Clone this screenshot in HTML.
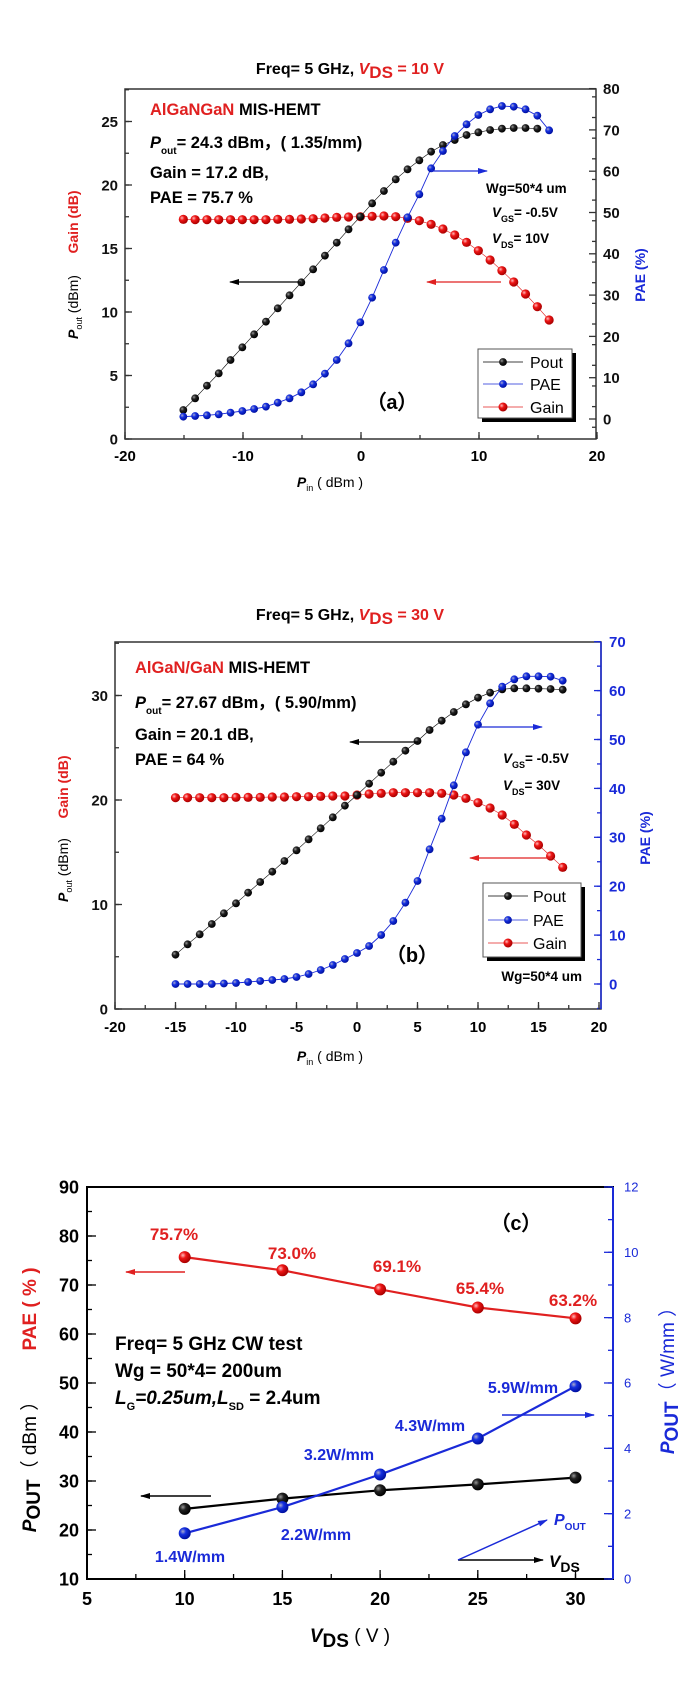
<!DOCTYPE html>
<html><head><meta charset="utf-8"><style>
html,body{margin:0;padding:0;background:#fff}
svg{display:block;font-family:"Liberation Sans",Arial,sans-serif;font-weight:bold}
</style></head><body>
<svg id="s" width="693" height="1701" viewBox="0 0 693 1701" xmlns="http://www.w3.org/2000/svg">
<defs>
<radialGradient id="gk" cx="35%" cy="35%" r="65%"><stop offset="0" stop-color="#999"/><stop offset="0.4" stop-color="#222"/><stop offset="1" stop-color="#000"/></radialGradient>
<radialGradient id="gb" cx="35%" cy="35%" r="65%"><stop offset="0" stop-color="#aac"/><stop offset="0.4" stop-color="#1530e0"/><stop offset="1" stop-color="#0010a0"/></radialGradient>
<radialGradient id="gr" cx="35%" cy="35%" r="65%"><stop offset="0" stop-color="#fbb"/><stop offset="0.4" stop-color="#ee1515"/><stop offset="1" stop-color="#a00"/></radialGradient>
<marker id="ak" markerWidth="10" markerHeight="8" refX="9" refY="4" orient="auto" markerUnits="userSpaceOnUse"><path d="M0,1 L10,4 L0,7 Z" fill="#000"/></marker>
<marker id="ab" markerWidth="10" markerHeight="8" refX="9" refY="4" orient="auto" markerUnits="userSpaceOnUse"><path d="M0,1 L10,4 L0,7 Z" fill="#1a2ad8"/></marker>
<marker id="ar" markerWidth="10" markerHeight="8" refX="9" refY="4" orient="auto" markerUnits="userSpaceOnUse"><path d="M0,1 L10,4 L0,7 Z" fill="#e02020"/></marker>
</defs>

<!-- ============ Plot A ============ -->
<text x="350" y="74" text-anchor="middle" font-size="16">Freq= 5 GHz, <tspan fill="#e02020" font-style="italic">V</tspan><tspan fill="#e02020" font-size="17" dy="4">DS</tspan><tspan fill="#e02020" dy="-4"> = 10 V</tspan></text>
<rect x="125" y="89" width="471" height="350" fill="none" stroke="#333" stroke-width="1.5"/>
<g id="ga"></g>
<text x="150" y="115" font-size="16.5"><tspan fill="#e02020">AlGaNGaN</tspan> MIS-HEMT</text>
<text x="150" y="148" font-size="16.5"><tspan font-style="italic">P</tspan><tspan font-size="10" dy="6">out</tspan><tspan dy="-6">=  24.3 dBm，( 1.35/mm)</tspan></text>
<text x="150" y="178" font-size="16.5">Gain = 17.2 dB,</text>
<text x="150" y="203" font-size="16.5">PAE = 75.7 %</text>
<text x="486" y="193" font-size="13.5">Wg=50*4 um</text>
<text x="492" y="217" font-size="13.5"><tspan font-style="italic">V</tspan><tspan font-size="9" dy="5">GS</tspan><tspan dy="-5">= -0.5V</tspan></text>
<text x="492" y="243" font-size="13.5"><tspan font-style="italic">V</tspan><tspan font-size="9" dy="5">DS</tspan><tspan dy="-5">= 10V</tspan></text>
<line x1="301" y1="282" x2="230" y2="282" stroke="#000" stroke-width="1.2" marker-end="url(#ak)"/>
<line x1="431" y1="171" x2="487" y2="171" stroke="#1a2ad8" stroke-width="1.2" marker-end="url(#ab)"/>
<line x1="501" y1="282" x2="427" y2="282" stroke="#e02020" stroke-width="1.2" marker-end="url(#ar)"/>
<text x="392" y="409" text-anchor="middle" font-size="20">（a）</text>
<rect x="482" y="353" width="94" height="69" fill="#000"/>
<rect x="478" y="349" width="94" height="69" fill="#fff" stroke="#555" stroke-width="1"/>
<g id="la"></g>
<text x="78" y="307" transform="rotate(-90 78 307)" text-anchor="middle" font-size="14" font-weight="normal"><tspan font-weight="bold" font-style="italic">P</tspan><tspan font-size="9" dy="4">out</tspan><tspan dy="-4"> (dBm)</tspan></text>
<text x="78" y="222" transform="rotate(-90 78 222)" text-anchor="middle" font-size="14" fill="#e02020">Gain (dB)</text>
<text x="645" y="275" transform="rotate(-90 645 275)" text-anchor="middle" font-size="14" fill="#1a2ad8">PAE (%)</text>
<text x="330" y="487" text-anchor="middle" font-size="14" font-weight="normal"><tspan font-weight="bold" font-style="italic">P</tspan><tspan font-size="9" dy="4">in</tspan><tspan dy="-4"> ( dBm )</tspan></text>

<!-- ============ Plot B ============ -->
<text x="350" y="620" text-anchor="middle" font-size="16">Freq= 5 GHz, <tspan fill="#e02020" font-style="italic">V</tspan><tspan fill="#e02020" font-size="17" dy="4">DS</tspan><tspan fill="#e02020" dy="-4"> = 30 V</tspan></text>
<rect x="115" y="642" width="486" height="367" fill="none" stroke="#333" stroke-width="1.5"/>
<line x1="601" y1="642" x2="601" y2="1009" stroke="#1a2ad8" stroke-width="1.5"/>
<g id="gbp"></g>
<text x="135" y="673" font-size="16.5"><tspan fill="#e02020">AlGaN/GaN</tspan> MIS-HEMT</text>
<text x="135" y="708" font-size="16.5"><tspan font-style="italic">P</tspan><tspan font-size="10" dy="6">out</tspan><tspan dy="-6">=  27.67 dBm，( 5.90/mm)</tspan></text>
<text x="135" y="740" font-size="16.5">Gain = 20.1 dB,</text>
<text x="135" y="765" font-size="16.5">PAE = 64 %</text>
<text x="503" y="763" font-size="13.5"><tspan font-style="italic">V</tspan><tspan font-size="9" dy="5">GS</tspan><tspan dy="-5">= -0.5V</tspan></text>
<text x="503" y="790" font-size="13.5"><tspan font-style="italic">V</tspan><tspan font-size="9" dy="5">DS</tspan><tspan dy="-5">= 30V</tspan></text>
<text x="582" y="981" text-anchor="end" font-size="13.5">Wg=50*4 um</text>
<line x1="418" y1="742" x2="350" y2="742" stroke="#000" stroke-width="1.2" marker-end="url(#ak)"/>
<line x1="479" y1="727" x2="542" y2="727" stroke="#1a2ad8" stroke-width="1.2" marker-end="url(#ab)"/>
<line x1="552" y1="858" x2="470" y2="858" stroke="#e02020" stroke-width="1.2" marker-end="url(#ar)"/>
<text x="412" y="962" text-anchor="middle" font-size="20">（b）</text>
<rect x="487" y="887" width="98" height="74" fill="#000"/>
<rect x="483" y="883" width="98" height="74" fill="#fff" stroke="#555" stroke-width="1"/>
<g id="lb"></g>
<text x="68" y="870" transform="rotate(-90 68 870)" text-anchor="middle" font-size="14" font-weight="normal"><tspan font-weight="bold" font-style="italic">P</tspan><tspan font-size="9" dy="4">out</tspan><tspan dy="-4"> (dBm)</tspan></text>
<text x="68" y="787" transform="rotate(-90 68 787)" text-anchor="middle" font-size="14" fill="#e02020">Gain (dB)</text>
<text x="650" y="838" transform="rotate(-90 650 838)" text-anchor="middle" font-size="14" fill="#1a2ad8">PAE (%)</text>
<text x="330" y="1061" text-anchor="middle" font-size="14" font-weight="normal"><tspan font-weight="bold" font-style="italic">P</tspan><tspan font-size="9" dy="4">in</tspan><tspan dy="-4"> ( dBm )</tspan></text>

<!-- ============ Plot C ============ -->
<rect x="87" y="1187" width="526" height="392" fill="none" stroke="#000" stroke-width="2"/>
<line x1="613" y1="1187" x2="613" y2="1579" stroke="#1a2ad8" stroke-width="2"/>
<g id="gc"></g>
<text x="174" y="1240" text-anchor="middle" font-size="17" fill="#e02020">75.7%</text>
<text x="292" y="1259" text-anchor="middle" font-size="17" fill="#e02020">73.0%</text>
<text x="397" y="1272" text-anchor="middle" font-size="17" fill="#e02020">69.1%</text>
<text x="480" y="1294" text-anchor="middle" font-size="17" fill="#e02020">65.4%</text>
<text x="573" y="1306" text-anchor="middle" font-size="17" fill="#e02020">63.2%</text>
<text x="516" y="1230" text-anchor="middle" font-size="20">（c）</text>
<text x="115" y="1350" font-size="19">Freq= 5 GHz CW test</text>
<text x="115" y="1377" font-size="19">Wg = 50*4= 200um</text>
<text x="115" y="1404" font-size="19"><tspan font-style="italic">L</tspan><tspan font-size="11" dy="6">G</tspan><tspan dy="-6" font-style="italic">=0.25um,L</tspan><tspan font-size="11" dy="6">SD</tspan><tspan dy="-6"> = 2.4um</tspan></text>
<text x="523" y="1393" text-anchor="middle" font-size="16" fill="#1a2ad8">5.9W/mm</text>
<text x="430" y="1431" text-anchor="middle" font-size="16" fill="#1a2ad8">4.3W/mm</text>
<text x="339" y="1460" text-anchor="middle" font-size="16" fill="#1a2ad8">3.2W/mm</text>
<text x="316" y="1540" text-anchor="middle" font-size="16" fill="#1a2ad8">2.2W/mm</text>
<text x="190" y="1562" text-anchor="middle" font-size="16" fill="#1a2ad8">1.4W/mm</text>
<line x1="185" y1="1272" x2="126" y2="1272" stroke="#e02020" stroke-width="1.5" marker-end="url(#ar)"/>
<line x1="502" y1="1415" x2="594" y2="1415" stroke="#1a2ad8" stroke-width="1.5" marker-end="url(#ab)"/>
<line x1="211" y1="1496" x2="141" y2="1496" stroke="#000" stroke-width="1.5" marker-end="url(#ak)"/>
<line x1="458" y1="1560" x2="543" y2="1560" stroke="#000" stroke-width="1.5" marker-end="url(#ak)"/>
<line x1="458" y1="1560" x2="547" y2="1520" stroke="#1a2ad8" stroke-width="1.5" marker-end="url(#ab)"/>
<text x="549" y="1567" font-size="17"><tspan font-style="italic">V</tspan><tspan font-size="14" dy="5">DS</tspan></text>
<text x="554" y="1525" font-size="16" fill="#1a2ad8"><tspan font-style="italic">P</tspan><tspan font-size="10" dy="5">OUT</tspan></text>
<text x="350" y="1642" text-anchor="middle" font-size="19"><tspan font-style="italic">V</tspan><tspan dy="5">DS</tspan><tspan dy="-5" font-weight="normal"> ( V )</tspan></text>
<text x="36" y="1309" transform="rotate(-90 36 1309)" text-anchor="middle" font-size="19" fill="#e02020">PAE ( % )</text>
<text x="36" y="1462" transform="rotate(-90 36 1462)" text-anchor="middle" font-size="19"><tspan font-style="italic">P</tspan><tspan dy="4">OUT</tspan><tspan dy="-4" font-weight="normal">（ dBm ）</tspan></text>
<text x="674" y="1376" transform="rotate(-90 674 1376)" text-anchor="middle" font-size="19" fill="#1a2ad8"><tspan font-style="italic">P</tspan><tspan dy="4">OUT</tspan><tspan dy="-4" font-weight="normal">（ W/mm ）</tspan></text>
</svg>
<script>
var NS="http://www.w3.org/2000/svg";
function el(p,t,a,txt){var e=document.createElementNS(NS,t);for(var k in a)e.setAttribute(k,a[k]);if(txt!==undefined)e.textContent=txt;p.appendChild(e);return e;}
var col={k:"#000",b:"#1a2ad8",r:"#e02020"};
function series(g,pts,c,r,lw){var d=pts.map(function(p,i){return (i?"L":"M")+p[0].toFixed(1)+","+p[1].toFixed(1)}).join("");
 el(g,"path",{d:d,fill:"none",stroke:col[c],"stroke-width":lw||0.8});
 pts.forEach(function(p){el(g,"circle",{cx:p[0],cy:p[1],r:r,fill:"url(#g"+c+")"});});}
function ticks(g,axis,pos,from,to,step,len,color,labels,lab){
 for(var v=from;v<=to+1e-6;v+=step){var p=pos(v);var L=len;
  if(axis=='l')el(g,"line",{x1:lab.x0,y1:p,x2:lab.x0+L,y2:p,stroke:color,"stroke-width":1.3});
  if(axis=='r')el(g,"line",{x1:lab.x0,y1:p,x2:lab.x0-L,y2:p,stroke:color,"stroke-width":1.3});
  if(axis=='b')el(g,"line",{x1:p,y1:lab.y0,x2:p,y2:lab.y0-L,stroke:color,"stroke-width":1.3});}
}
function labelsY(g,vals,pos,x,anchor,fs,color,fw){vals.forEach(function(v){el(g,"text",{x:x,y:pos(v)+fs*0.36,"text-anchor":anchor,"font-size":fs,fill:color,"font-weight":fw||"bold"},String(v));});}
function labelsX(g,vals,pos,y,fs){vals.forEach(function(v){el(g,"text",{x:pos(v),y:y,"text-anchor":"middle","font-size":fs},String(v));});}

(function(){var g=document.getElementById("ga");
 var X=function(v){return 125+(v+20)*11.8},Y=function(v){return 439-v*12.7},Y2=function(v){return 419-v*4.13};
 ticks(g,'l',Y,0,27.5,2.5,4,"#333",0,{x0:125});ticks(g,'l',Y,0,25,5,7,"#333",0,{x0:125});
 ticks(g,'r',Y2,-2,80,5,4,"#333",0,{x0:596});ticks(g,'r',Y2,0,80,10,7,"#333",0,{x0:596});
 ticks(g,'b',X,-20,20,5,4,"#333",0,{y0:439});ticks(g,'b',X,-20,20,10,7,"#333",0,{y0:439});
 labelsY(g,[0,5,10,15,20,25],Y,118,"end",15,"#111");
 labelsY(g,[0,10,20,30,40,50,60,70,80],Y2,603,"start",15,"#111");
 labelsX(g,[-20,-10,0,10,20],X,461,15);
 var zx=function(i){return 90+(280+35.4*i)/3};
 var bk=[1050,1015,977,940,900,862,823,785,745,706,667,628,587,548,508,470,430,393,358,328,301,275,255,240,225,217,210,206,204,204,206];
 var bl=[1070,1068,1066,1063,1058,1053,1047,1040,1028,1015,997,973,941,900,850,787,713,630,548,472,403,325,273,228,193,165,148,138,140,148,167,211];
 var rd=[478,479,479,479,479,479,479,479,478,478,477,476,474,472,471,470,469,468,470,475,482,493,507,525,547,572,600,632,666,702,740,780,822];
 var P=function(a){return a.map(function(z,i){return [zx(i),60+z/3]})};
 series(g,P(rd).slice(0,32),"r",4.6,0.6);series(g,P(bk),"k",3.9,0.6);series(g,P(bl),"b",3.9,0.9);
 var l=document.getElementById("la");
 [["k","Pout",362],["b","PAE",384],["r","Gain",407]].forEach(function(e){el(l,"line",{x1:483,y1:e[2],x2:523,y2:e[2],stroke:col[e[0]],"stroke-width":0.8});el(l,"circle",{cx:503,cy:e[2],r:e[0]=="r"?4.5:3.9,fill:"url(#g"+e[0]+")"});el(l,"text",{x:530,y:e[2]+6,"font-size":16,"font-weight":"normal"},e[1]);});
})();
(function(){var g=document.getElementById("gbp");
 var X=function(v){return 115+(v+20)*12.1},Y=function(v){return 1009-v*10.45},Y2=function(v){return 984-v*4.89};
 ticks(g,'l',Y,0,35,5,4,"#333",0,{x0:115});ticks(g,'l',Y,0,30,10,7,"#333",0,{x0:115});
 ticks(g,'r',Y2,-5,70,5,4,"#1a2ad8",0,{x0:601});ticks(g,'r',Y2,0,70,10,7,"#1a2ad8",0,{x0:601});
 ticks(g,'b',X,-20,20,2.5,4,"#333",0,{y0:1009});ticks(g,'b',X,-20,20,5,7,"#333",0,{y0:1009});
 labelsY(g,[0,10,20,30],Y,108,"end",15,"#111");
 labelsY(g,[0,10,20,30,40,50,60,70],Y2,609,"start",15,"#1a2ad8");
 labelsX(g,[-20,-15,-10,-5,0,5,10,15,20],X,1032,15);
 var x=function(i){return X(-15+i)};
 var bk=[1124,1093,1063,1032,1000,970,938,906,875,843,811,778,745,712,677,645,611,578,545,512,483,450,422,396,373,353,338,328,325,325,326,327,329];
 var rd=[653,653,653,653,653,652,652,652,651,651,650,650,649,648,648,645,642,640,638,638,638,638,640,645,655,668,684,705,733,765,795,828,862];
 var blT=[984,984,984,984,983.5,983,982,981,980,979,977,974,970,965,959,953];
 var blZ=[1098,1065,1023,968,903,808,716,616,517,434,370,320,298,289,289,290,302];
 var bl=blT.concat(blZ.map(function(z){return 580+z/3}));
 var P=function(a,z){return a.map(function(v,i){return [x(i),z?580+v/3:v]})};
 series(g,P(rd,1),"r",4.6,0.6);series(g,P(bk,1),"k",3.9,0.6);series(g,P(bl,0),"b",3.9,0.9);
 var l=document.getElementById("lb");
 [["k","Pout",896],["b","PAE",920],["r","Gain",943]].forEach(function(e){el(l,"line",{x1:488,y1:e[2],x2:528,y2:e[2],stroke:col[e[0]],"stroke-width":0.8});el(l,"circle",{cx:508,cy:e[2],r:e[0]=="r"?4.5:3.9,fill:"url(#g"+e[0]+")"});el(l,"text",{x:533,y:e[2]+6,"font-size":16,"font-weight":"normal"},e[1]);});
})();
(function(){var g=document.getElementById("gc");
 var X=function(v){return 87+(v-5)*19.54},Y=function(v){return 1579-(v-10)*4.9},Y2=function(v){return 1579-v*32.67};
 ticks(g,'l',Y,10,90,5,5,"#000",0,{x0:87});ticks(g,'l',Y,10,90,10,9,"#000",0,{x0:87});
 ticks(g,'r',Y2,0,12,1,5,"#1a2ad8",0,{x0:613});ticks(g,'r',Y2,0,12,2,9,"#1a2ad8",0,{x0:613});
 ticks(g,'b',X,5,30,2.5,5,"#000",0,{y0:1579});ticks(g,'b',X,5,30,5,9,"#000",0,{y0:1579});
 labelsY(g,[10,20,30,40,50,60,70,80,90],Y,79,"end",18,"#000");
 labelsY(g,[0,2,4,6,8,10,12],Y2,624,"start",13,"#1a2ad8","normal");
 labelsX(g,[5,10,15,20,25,30],X,1605,18);
 var vs=[10,15,20,25,30];
 series(g,vs.map(function(v,i){return [X(v),Y([75.7,73,69.1,65.4,63.2][i])]}),"r",6,2.2);
 series(g,vs.map(function(v,i){return [X(v),Y([24.3,26.4,28.1,29.3,30.7][i])]}),"k",6,2.2);
 series(g,vs.map(function(v,i){return [X(v),Y2([1.4,2.2,3.2,4.3,5.9][i])]}),"b",6,2.2);
})();
</script>
</body></html>
